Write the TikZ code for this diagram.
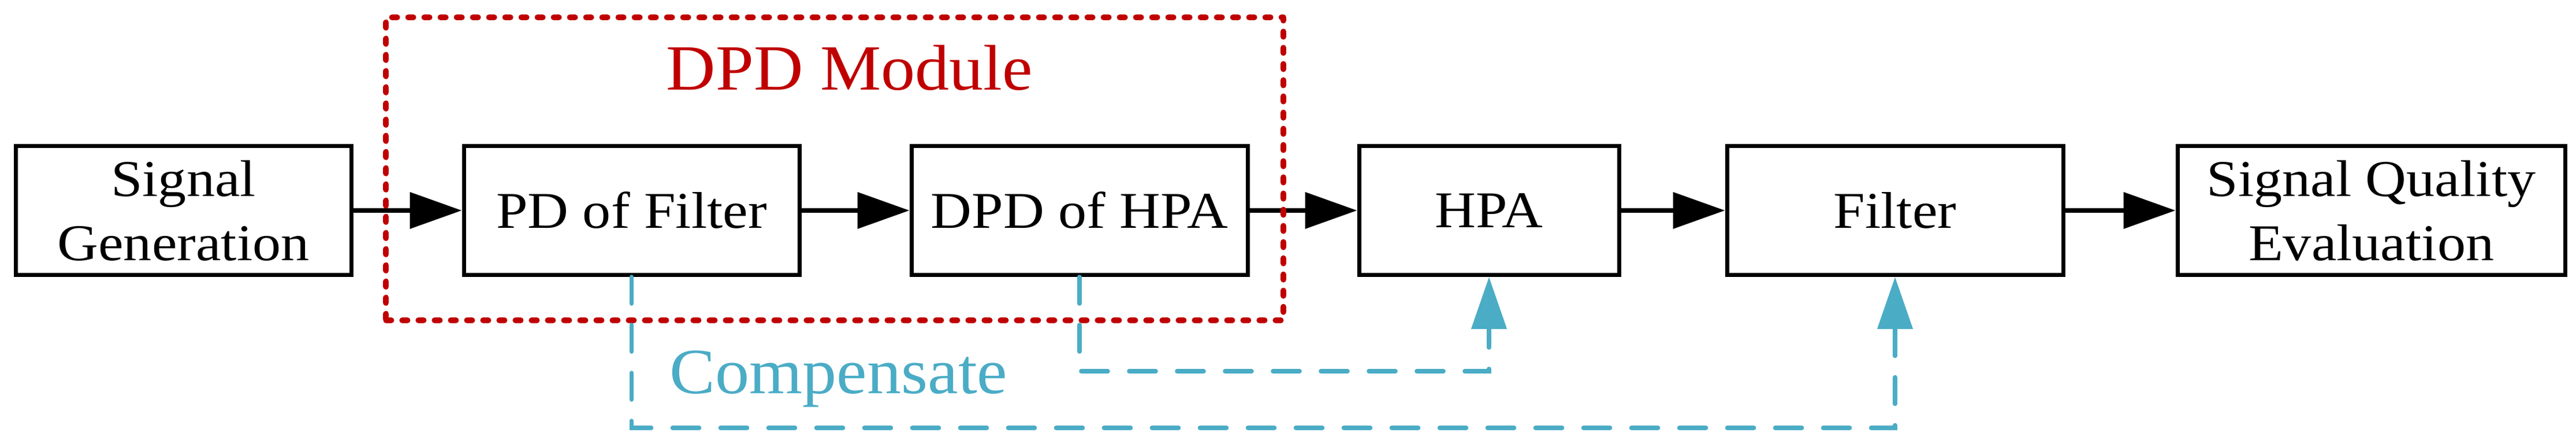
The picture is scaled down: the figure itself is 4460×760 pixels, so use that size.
\documentclass[tikz,border=0pt]{standalone}
\usepackage{fontspec}
\setmainfont[FakeStretch=1.1]{Liberation Serif}
\newfontfamily\titlefont[FakeStretch=1.06]{Liberation Serif}
\usetikzlibrary{arrows.meta}
\definecolor{dpdred}{HTML}{C00000}
\definecolor{compblue}{HTML}{4BACC6}
\begin{document}
\begin{tikzpicture}[x=0.25pt,y=-0.25pt,
  blockbox/.style={draw, line width=1.75pt, minimum height=55.75pt, inner sep=0pt, align=center,
    font=\fontsize{22.3}{27.75}\selectfont},
  flow/.style={line width=1.8pt, -{Triangle[length=22.5pt,width=15.5pt]}},
  comp/.style={draw=compblue, line width=1.9pt, line cap=round, dash pattern=on 11.5pt off 9.25pt,
    -{Triangle[length=22.5pt,width=15pt,fill=compblue]}},
  group/.style={draw=dpdred, line width=2.5pt, line cap=round, line join=round,
    dash pattern=on 2.25pt off 4.75pt, inner sep=0pt},
  title/.style={font=\titlefont\fontsize{27.9}{33}\selectfont, inner sep=0pt, anchor=base}]
\useasboundingbox (0,0) rectangle (4460,760);
\node[blockbox, minimum width=145.25pt] (sg) at (317.5,364) {Signal\\Generation};
\node[blockbox, minimum width=145.25pt] (pd) at (1093.5,364) {PD of Filter};
\node[blockbox, minimum width=145.5pt] (dh) at (1869,364) {DPD of HPA};
\node[blockbox, minimum width=112.5pt] (hpa) at (2578,364) {HPA};
\node[blockbox, minimum width=145.5pt] (filter) at (3281,364) {Filter};
\node[blockbox, minimum width=167.75pt] (sqe) at (4105.5,364) {Signal Quality\\Evaluation};
\draw[flow] (sg) -- (pd);
\draw[flow] (pd) -- (dh);
\draw[flow] (dh) -- (hpa);
\draw[flow] (hpa) -- (filter);
\draw[flow] (filter) -- (sqe);
\node[group, minimum width=388.4pt, minimum height=131pt] (dpd) at (1445.25,292) {};
\node[title, text=dpdred] (dpdlabel) at (1471,155) {DPD Module};
\node[title, text=compblue] (complabel) at (1452,680) {Compensate};
\draw[comp] (pd.south) -- ++(0,261) -| (filter.south);
\draw[comp] (dh.south) -- ++(0,163) -| (hpa.south);
\end{tikzpicture}
\end{document}
